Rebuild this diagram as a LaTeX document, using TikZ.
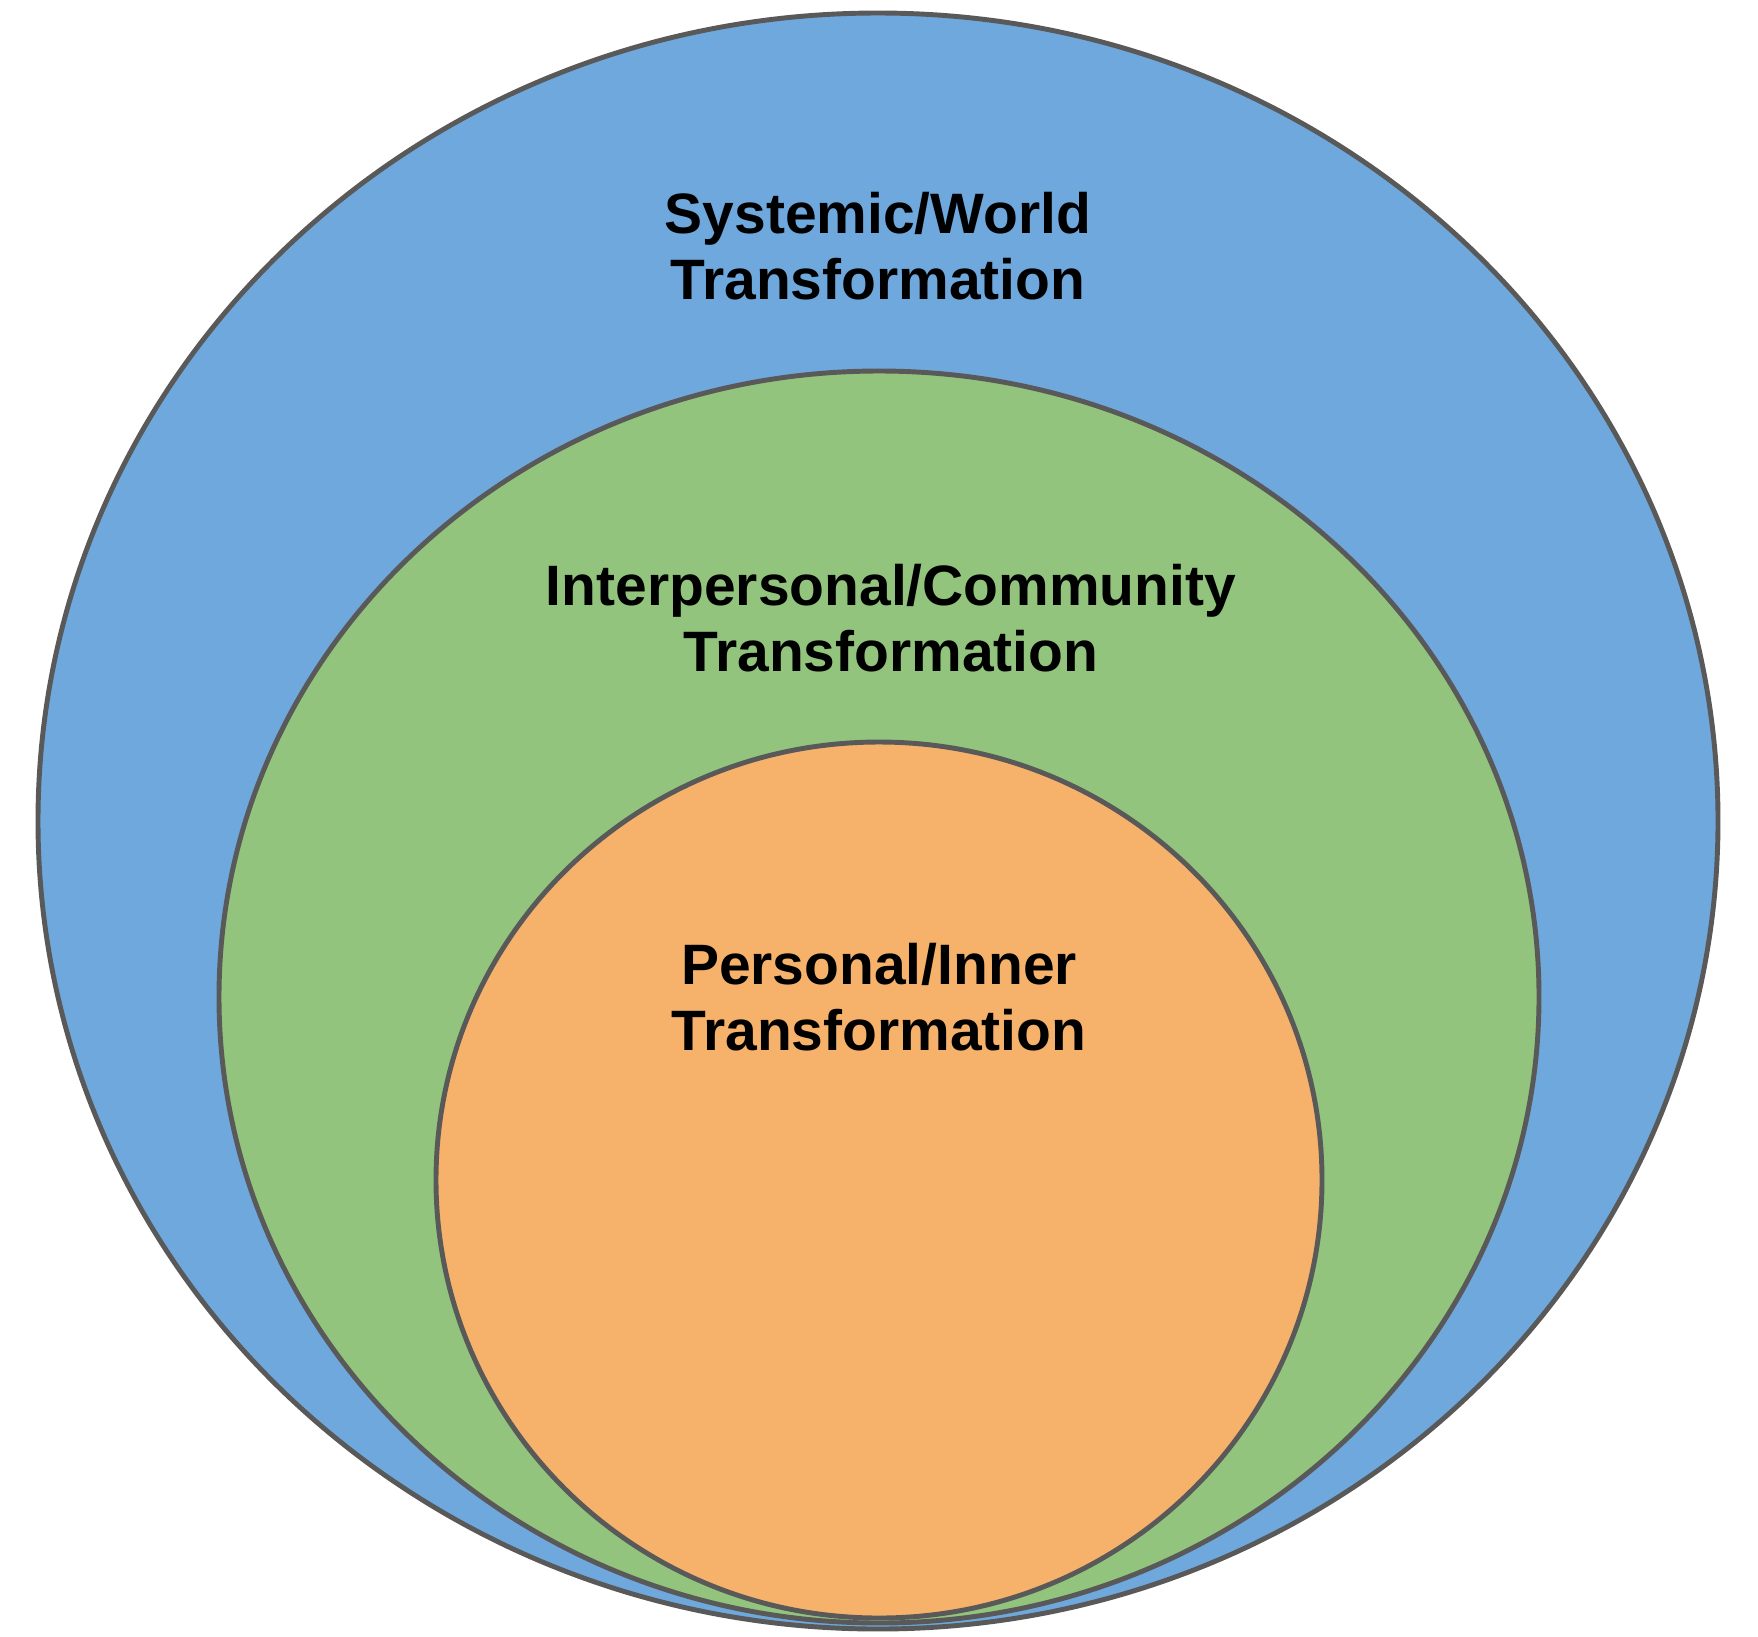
\documentclass[tikz,border=0pt]{standalone}
\usepackage{fontspec}
\setmainfont{Liberation Sans}
\usepackage{tikz}
\usetikzlibrary{positioning}

\definecolor{worldblue}{HTML}{6FA8DC}
\definecolor{commgreen}{HTML}{93C47D}
\definecolor{innerorange}{HTML}{F6B26B}
\definecolor{rimgray}{HTML}{595959}

\begin{document}
\begin{tikzpicture}[
    x=0.01cm, y=-0.01cm,
    ring/.style={draw=rimgray, line width=1.4pt},
    lbl/.style={font=\fontsize{16.2}{18.8}\selectfont\bfseries, align=center, inner sep=0pt}
]
\useasboundingbox (0,0) rectangle (1758,1636);

\draw[ring, fill=worldblue] (878,821) ellipse [x radius=840, y radius=808];
\draw[ring, fill=commgreen] (879,997) ellipse [x radius=660, y radius=626];
\draw[ring, fill=innerorange] (879,1180) ellipse [x radius=443, y radius=438];

\node[lbl] (world) at (878,246) {Systemic/World\\Transformation};
\node[lbl] (comm) at (891,618) {Interpersonal/Community\\Transformation};
\node[lbl] (inner) at (879,997) {Personal/Inner\\Transformation};
\end{tikzpicture}
\end{document}
